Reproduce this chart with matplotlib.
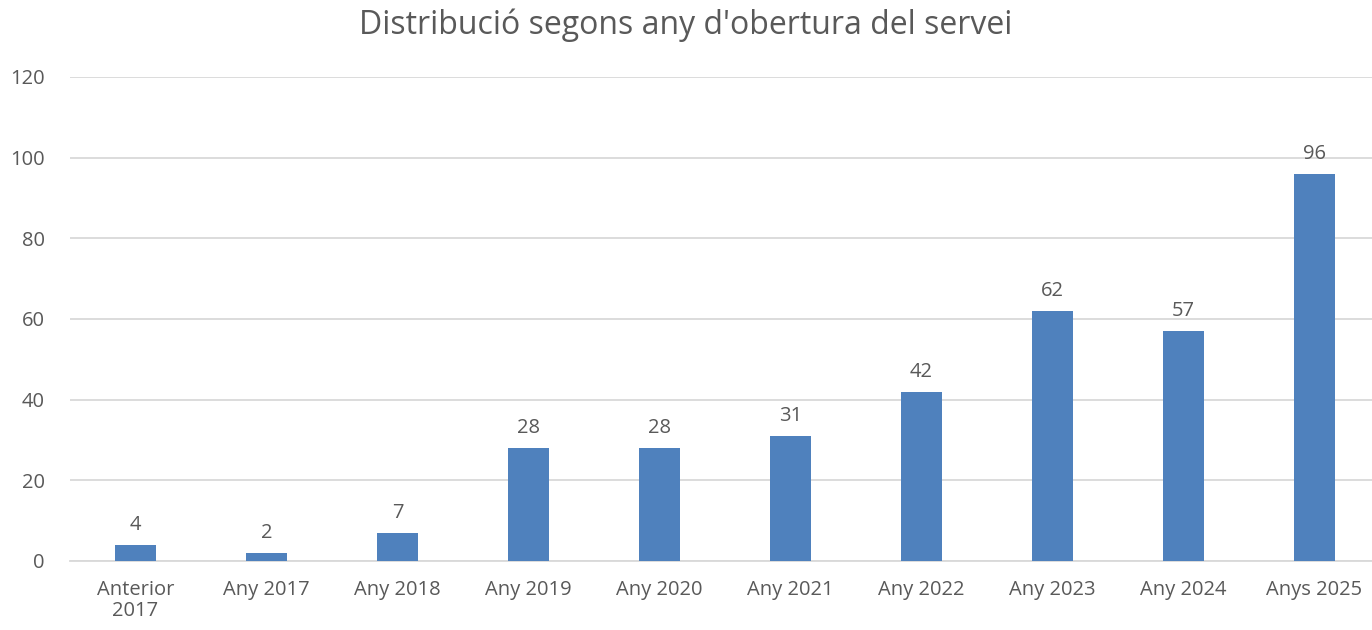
import matplotlib
matplotlib.use("Agg")
import matplotlib.pyplot as plt

# values
categories = ["Anterior\n2017", "Any 2017", "Any 2018", "Any 2019", "Any 2020",
              "Any 2021", "Any 2022", "Any 2023", "Any 2024", "Anys 2025"]
counts = [4, 2, 7, 28, 28, 31, 42, 62, 57, 96]
yticks = [0, 20, 40, 60, 80, 100, 120]

plt.rcParams["font.family"] = ["Open Sans", "DejaVu Sans"]
text_color = "#595959"
bar_color = "#4F81BD"

fig = plt.figure(figsize=(13.72, 6.30), dpi=100)
ax = fig.add_axes([70 / 1372, 1 - 561 / 630, 1 - 70 / 1372, 484 / 630])

x = list(range(len(categories)))
bars = ax.bar(x, counts, width=0.31, color=bar_color, zorder=3)

for xi, v in zip(x, counts):
    ax.annotate(str(v), (xi, v), xytext=(0, 7), textcoords="offset points",
                ha="center", va="bottom", fontsize=14.5, color=text_color)

ax.set_ylim(0, 120)
ax.set_xlim(-0.5, 9.44)
ax.set_yticks(yticks)
ax.set_xticks(x)
ax.set_xticklabels(categories, linespacing=1.05)
ax.yaxis.grid(True, color="#D9D9D9", linewidth=1.3, zorder=0)
ax.tick_params(axis="both", length=0, labelsize=14.5, colors=text_color)
ax.tick_params(axis="x", pad=14)
ax.tick_params(axis="y", pad=18)
for lbl in ax.get_yticklabels():
    lbl.set_horizontalalignment("right")

for side in ["top", "right", "left"]:
    ax.spines[side].set_visible(False)
ax.spines["bottom"].set_color("#D9D9D9")
ax.spines["bottom"].set_linewidth(1.3)

fig.text(0.5, 1 - 25 / 630, "Distribució segons any d'obertura del servei",
         ha="center", va="center", fontsize=23, color=text_color)

fig.savefig("out.png", dpi=100, facecolor="white")
